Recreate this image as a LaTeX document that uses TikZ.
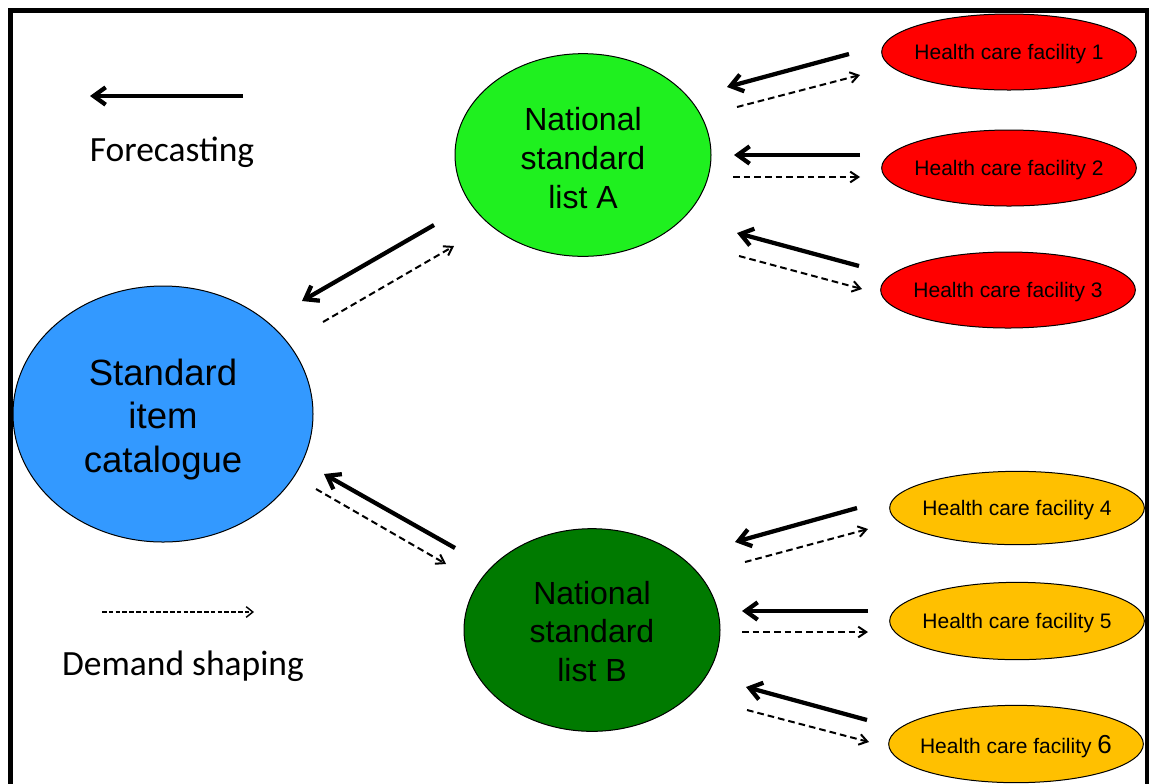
\documentclass[tikz,border=0pt]{standalone}
\usepackage{fontspec}
\setmainfont{Liberation Sans}
\newfontfamily\legendfont{Carlito}
\usetikzlibrary{arrows.meta,shapes.geometric}

\definecolor{catblue}{HTML}{3399FF}
\definecolor{listagreen}{HTML}{1FF01F}
\definecolor{listbgreen}{HTML}{007A00}
\definecolor{facred}{HTML}{FF0000}
\definecolor{facorange}{HTML}{FFC000}

\tikzset{
  blob/.style={ellipse, draw=black, line width=0.75pt, inner sep=0pt},
  catnode/.style={blob, fill=catblue, minimum width=225pt, minimum height=192pt},
  listnode/.style={blob, minimum width=192pt, minimum height=152pt},
  facnode/.style={blob, minimum width=191pt, minimum height=57pt},
  bigtext/.style={align=center, inner sep=0pt, text=black, font=\fontsize{27.4}{32.6}\selectfont},
  midtext/.style={align=center, inner sep=0pt, text=black, font=\fontsize{24}{29}\selectfont},
  smalltext/.style={inner sep=0pt, text=black, font=\fontsize{15.75}{19}\selectfont},
  fcarrow/.style={line width=3.2pt, -{Straight Barb[length=9pt,width=13pt]}},
  dsarrow/.style={line width=1.5pt, dash pattern=on 5pt off 3pt,
    -{Straight Barb[length=6pt,width=8pt]}},
  legendtext/.style={font=\legendfont\fontsize{26.6}{30}\selectfont, anchor=base, inner sep=0pt},
}

\begin{document}
\begin{tikzpicture}[x=0.75pt,y=-0.75pt]
\useasboundingbox (0,0) rectangle (1151,783);

% outer frame (its lower edge lies below the page)
\begin{scope}
  \clip (0,0) rectangle (1151,783);
  \draw[line width=3.4pt] (10.5,10.5) rectangle (1147,830);
\end{scope}

% main entities
\node[catnode] (cat) at (163,414) {};
\node[bigtext] (cattext) at ([yshift=-5.5*0.75pt]cat.center) {Standard\\item\\catalogue};
\node[listnode, fill=listagreen] (lista) at (583,155) {};
\node[midtext] (listatext) at ([yshift=-3*0.75pt]lista.center) {National\\standard\\list A};
\node[listnode, fill=listbgreen] (listb) at (592,630) {};
\node[midtext] (listbtext) at ([yshift=-1.5*0.75pt]listb.center) {National\\standard\\list B};

% health care facilities
\node[facnode, fill=facred] (hcf1) at (1009,52) {};
\node[facnode, fill=facred] (hcf2) at (1009,168) {};
\node[facnode, fill=facred] (hcf3) at (1008,290) {};
\node[facnode, fill=facorange, minimum height=55pt] (hcf4) at (1017,508) {};
\node[facnode, fill=facorange, minimum height=58pt] (hcf5) at (1017,621) {};
\node[facnode, fill=facorange, minimum height=58pt] (hcf6) at (1016,744) {};
\foreach \k in {1,...,5} {
  \node[smalltext] (hcf\k text) at ([yshift=-2.5*0.75pt]hcf\k.center) {Health care facility \k};
}
\node[smalltext] (hcf6text) at ([yshift=-2.5*0.75pt]hcf6.center)
  {Health care facility {\fontsize{19.5}{19}\selectfont 6}};

% legend
\coordinate (fcS) at (243,96);  \coordinate (fcE) at (90,96);
\draw[fcarrow] (fcS) -- (fcE);
\node[legendtext] (fclabel) at (172,161) {Forecasting};
\coordinate (dsS) at (102,612); \coordinate (dsE) at (254,612);
\draw[line width=1.1pt, dash pattern=on 3.5pt off 1.6pt,
  -{Straight Barb[length=5pt,width=8pt]}] (dsS) -- (dsE);
\node[legendtext] (dslabel) at (183,675) {Demand shaping};

% catalogue <-> list A
\coordinate (caS) at (434,225); \coordinate (caE) at (302,301);
\coordinate (acS) at (323,322); \coordinate (acE) at (454,246);
\draw[fcarrow] (caS) -- (caE);
\draw[dsarrow] (acS) -- (acE);

% catalogue <-> list B
\coordinate (cbS) at (455,548); \coordinate (cbE) at (324,474);
\coordinate (bcS) at (316,489); \coordinate (bcE) at (446,564);
\draw[fcarrow] (cbS) -- (cbE);
\draw[dsarrow] (bcS) -- (bcE);

% facilities 1-3 <-> list A
\coordinate (f1S) at (849,54);  \coordinate (f1E) at (727,87);
\coordinate (g1S) at (737,107); \coordinate (g1E) at (860,75);
\coordinate (f2S) at (860,155); \coordinate (f2E) at (734,155);
\coordinate (g2S) at (733,177); \coordinate (g2E) at (860,177);
\coordinate (f3S) at (859,266); \coordinate (f3E) at (737,233);
\coordinate (g3S) at (739,256); \coordinate (g3E) at (862,289);
\foreach \k in {1,2,3} {
  \draw[fcarrow] (f\k S) -- (f\k E);
  \draw[dsarrow] (g\k S) -- (g\k E);
}

% facilities 4-6 <-> list B
\coordinate (f4S) at (857,508); \coordinate (f4E) at (735,542);
\coordinate (g4S) at (745,562); \coordinate (g4E) at (868,529);
\coordinate (f5S) at (868,611); \coordinate (f5E) at (742,611);
\coordinate (g5S) at (742,632); \coordinate (g5E) at (868,632);
\coordinate (f6S) at (867,720); \coordinate (f6E) at (746,687);
\coordinate (g6S) at (747,710); \coordinate (g6E) at (869,742);
\foreach \k in {4,5,6} {
  \draw[fcarrow] (f\k S) -- (f\k E);
  \draw[dsarrow] (g\k S) -- (g\k E);
}
\end{tikzpicture}
\end{document}
